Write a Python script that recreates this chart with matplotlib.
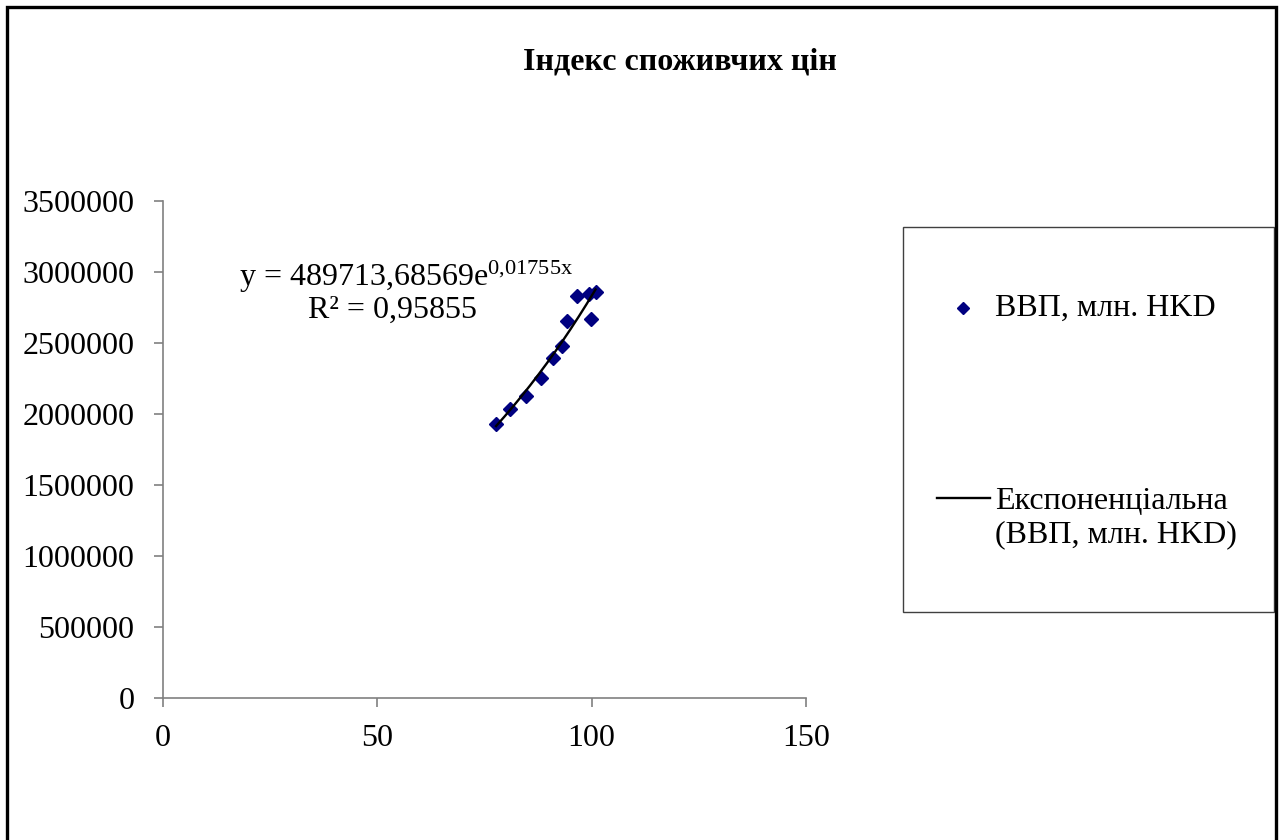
import numpy as np
import matplotlib
matplotlib.use("Agg")
import matplotlib.pyplot as plt
from matplotlib.lines import Line2D
from matplotlib.patches import Rectangle

plt.rcParams['font.family'] = ['Liberation Serif', 'DejaVu Serif']
plt.rcParams['mathtext.fontset'] = 'custom'
plt.rcParams['mathtext.rm'] = 'Liberation Serif'
plt.rcParams['mathtext.it'] = 'Liberation Serif:italic'

# Consumer price index vs GDP (mln HKD)
cpi = [77.7, 80.9, 84.6, 88.2, 90.9, 93.1, 94.3, 96.5, 99.8, 99.4, 100.9]
gdp = [1930000, 2033000, 2129000, 2251000, 2392000, 2481000, 2655000,
       2831000, 2667000, 2845000, 2861000]

# Exponential trendline y = a * exp(b x)
fit_a = 489713.68569
fit_b = 0.01755
r_squared = 0.95855

series_label = "ВВП, млн. HKD"
trend_label = "Експоненціальна\n(ВВП, млн. HKD)"
title = "Індекс споживчих цін"
x_ticks = [0, 50, 100, 150]
y_ticks = [0, 500000, 1000000, 1500000, 2000000, 2500000, 3000000, 3500000]

W, H = 1279, 840
fig = plt.figure(figsize=(W / 100, H / 100), dpi=100)


def px(x0, y0, x1, y1):
    return [x0 / W, 1 - y1 / H, (x1 - x0) / W, (y1 - y0) / H]


def fx(x):
    return x / W


def fy(y):
    return 1 - y / H


ax = fig.add_axes(px(163, 201, 806, 698))

navy = '#000080'
grey = '#808080'
fs = 23

ax.plot(cpi, gdp, linestyle='none', marker='D', markersize=7.4,
        color=navy, zorder=3)
xs = np.linspace(min(cpi), max(cpi), 200)
ax.plot(xs, fit_a * np.exp(fit_b * xs), color='black', linewidth=1.7,
        zorder=4)

ax.set_xlim(0, 150)
ax.set_ylim(0, 3500000)
ax.set_xticks(x_ticks)
ax.set_yticks(y_ticks)
ax.set_xticklabels([str(v) for v in x_ticks])
ax.set_yticklabels([str(v) for v in y_ticks])
for s in ('top', 'right'):
    ax.spines[s].set_visible(False)
for s in ('left', 'bottom'):
    ax.spines[s].set_color(grey)
    ax.spines[s].set_linewidth(1.2)
ax.tick_params(axis='both', direction='out', length=6.5, width=1.2,
               color=grey, labelsize=fs, labelcolor='black')
ax.tick_params(axis='y', pad=14)
ax.tick_params(axis='x', pad=12)

# fitted equation and R²
fig.text(fx(406), fy(277), "y = 489713,68569e$^{\\mathrm{0{,}01755x}}$",
         fontsize=fs, ha='center', va='center')
fig.text(fx(392), fy(310), "R² = 0,95855", fontsize=fs, ha='center',
         va='center')

fig.text(fx(680), fy(62), title, fontsize=23, fontweight='bold',
         ha='center', va='center')

# legend box with its two entries
fig.patches.append(Rectangle((fx(903), fy(612)), (1274 - 903) / W,
                             (612 - 227) / H, transform=fig.transFigure,
                             facecolor='white', edgecolor='#404040',
                             linewidth=1.0, zorder=1))
fig.add_artist(Line2D([fx(963)], [fy(308)], transform=fig.transFigure,
                      linestyle='none', marker='D', markersize=6.5,
                      color=navy, zorder=5))
fig.text(fx(995), fy(308), series_label, fontsize=fs, ha='left',
         va='center', zorder=5)
fig.add_artist(Line2D([fx(937), fx(990)], [fy(498), fy(498)],
                      transform=fig.transFigure, color='black',
                      linewidth=1.7, zorder=5))
fig.text(fx(995), fy(487), trend_label, fontsize=fs, ha='left', va='top',
         linespacing=1.17, zorder=5)

# chart border
fig.patches.append(Rectangle((fx(7), -0.1), (1276 - 7) / W, 1.1 - 7 / H,
                             transform=fig.transFigure, fill=False,
                             edgecolor='black', linewidth=2.4, zorder=10))

fig.savefig('out.png', dpi=100)
